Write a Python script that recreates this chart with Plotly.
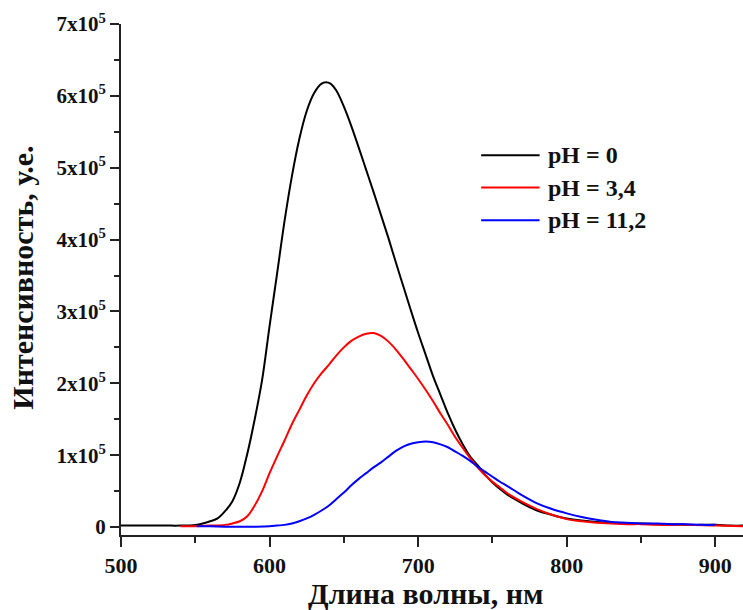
import plotly.graph_objects as go

# Emission spectra at three pH values (intensity in arbitrary units)
wl_ph0 = [500, 510, 520, 530, 540, 550, 555, 560, 565, 570, 575, 580, 585, 590, 595,
          600, 605, 610, 615, 620, 625, 630, 635, 638, 641, 645, 650, 655, 660, 665,
          670, 675, 680, 685, 690, 695, 700, 705, 710, 715, 720, 725, 730, 735, 740,
          745, 750, 755, 760, 770, 780, 790, 800, 810, 820, 830, 840, 850, 860, 870,
          880, 890, 900, 910, 920]
int_ph0 = [2000, 2000, 2000, 2000, 2000, 3000, 5000, 8000, 12000, 22000, 36000, 62000,
           102000, 150000, 205000, 280000, 352000, 425000, 488000, 540000, 579000,
           604000, 617000, 619000, 617000, 607000, 585000, 558000, 528000, 497000,
           466000, 434000, 402000, 368000, 335000, 302000, 270000, 240000, 210000,
           184000, 158000, 135000, 115000, 98000, 86000, 73000, 62000, 53000, 45000,
           33000, 23000, 17000, 12000, 9000, 7000, 6000, 5000, 5000, 4000, 4000,
           3000, 3000, 3000, 2000, 2000]

wl_ph34 = [540, 550, 560, 570, 575, 580, 585, 590, 595, 600, 605, 610, 615, 620, 625,
           630, 635, 640, 645, 650, 655, 660, 665, 670, 675, 680, 685, 690, 695, 700,
           705, 710, 715, 720, 725, 730, 735, 740, 745, 750, 755, 760, 770, 780, 790,
           800, 810, 820, 830, 840, 850, 860, 880, 900, 920]
int_ph34 = [1000, 1000, 2000, 3000, 5000, 8000, 15000, 30000, 50000, 75000, 98000,
            120000, 143000, 163000, 183000, 200000, 214000, 226000, 239000, 250000,
            259000, 265000, 269000, 270000, 266000, 258000, 247000, 234000, 220000,
            206000, 191000, 175000, 158000, 142000, 125000, 110000, 96000, 83000,
            72000, 63000, 55000, 47000, 35000, 25000, 17000, 11000, 8000, 6000, 5000,
            4000, 4000, 3000, 3000, 2000, 1000]

wl_ph112 = [551, 560, 570, 580, 590, 600, 605, 610, 615, 620, 625, 630, 635, 640, 645,
            650, 655, 660, 665, 670, 675, 680, 685, 690, 695, 700, 705, 710, 715, 720,
            725, 730, 735, 740, 745, 750, 755, 760, 770, 780, 790, 800, 810, 820, 830,
            840, 850, 860, 870, 880, 890, 900]
int_ph112 = [1000, 1000, 500, 500, 500, 1000, 2000, 3000, 5000, 8000, 12000, 17000,
             23000, 30000, 39000, 48000, 58000, 67000, 75000, 83000, 90000, 98000,
             106000, 112000, 116000, 118000, 119000, 118000, 115000, 111000, 105000,
             99000, 92000, 84000, 77000, 70000, 63000, 57000, 44000, 33000, 25000,
             19000, 14000, 10000, 7000, 6000, 5000, 5000, 4000, 4000, 3000, 3000]

series_names = ["pH = 0", "pH = 3,4", "pH = 11,2"]
series_colors = ["#000000", "#ff0000", "#0000ff"]
series_x = [wl_ph0, wl_ph34, wl_ph112]
series_y = [int_ph0, int_ph34, int_ph112]

y_tickvals = [0, 100000, 200000, 300000, 400000, 500000, 600000, 700000]
y_ticktext = ["0", "1x10<sup>5</sup>", "2x10<sup>5</sup>", "3x10<sup>5</sup>",
              "4x10<sup>5</sup>", "5x10<sup>5</sup>", "6x10<sup>5</sup>",
              "7x10<sup>5</sup>"]

x_title = "Длина волны, нм"
y_title = "Интенсивность, у.е."

FONT = "Liberation Serif"
AXIS_COLOR = "#222222"
TEXT_COLOR = "#111111"

fig = go.Figure()
for name, color, xs, ys in zip(series_names, series_colors, series_x, series_y):
    fig.add_trace(go.Scatter(
        x=xs, y=ys, name=name, mode="lines",
        line=dict(color=color, width=2, shape="spline", smoothing=1.0),
        showlegend=False,
    ))

# Legend drawn as short line segments with bold labels
leg_x0, leg_x1, leg_text_x = 0.579, 0.673, 0.684
leg_rows = [0.743, 0.680, 0.616]
for name, color, ry in zip(series_names, series_colors, leg_rows):
    fig.add_shape(type="line", xref="paper", yref="paper",
                  x0=leg_x0, x1=leg_x1, y0=ry, y1=ry,
                  line=dict(color=color, width=2))
    fig.add_annotation(xref="paper", yref="paper", x=leg_text_x, y=ry,
                       text=name, showarrow=False, xanchor="left", yanchor="middle",
                       font=dict(family=FONT, size=24, color=TEXT_COLOR, weight="bold"))

# Axis titles
fig.add_annotation(xref="paper", yref="paper", x=0.49, y=-0.114,
                   text=x_title, showarrow=False, xanchor="center", yanchor="middle",
                   font=dict(family=FONT, size=30, color=TEXT_COLOR, weight="bold"))
fig.add_annotation(xref="paper", yref="paper", x=-0.158, y=0.503,
                   text=y_title, showarrow=False, textangle=-90,
                   xanchor="center", yanchor="middle",
                   font=dict(family=FONT, size=30, color=TEXT_COLOR, weight="bold"))

fig.update_layout(
    width=743, height=610,
    margin=dict(l=121, r=0, t=24, b=75),
    paper_bgcolor="white", plot_bgcolor="white",
    font=dict(family=FONT, color=TEXT_COLOR),
)

fig.update_xaxes(
    range=[500, 918.6], tickmode="linear", tick0=500, dtick=100,
    showgrid=False, zeroline=False,
    showline=True, linecolor=AXIS_COLOR, linewidth=2,
    ticks="outside", ticklen=10, tickwidth=2, tickcolor=AXIS_COLOR,
    minor=dict(ticks="outside", ticklen=6, tickwidth=2, tickcolor=AXIS_COLOR,
               tickmode="linear", tick0=500, dtick=50),
    tickfont=dict(family=FONT, size=22, color=TEXT_COLOR, weight="bold"),
)

fig.update_yaxes(
    range=[-11100, 700000], tickmode="array",
    tickvals=y_tickvals, ticktext=y_ticktext,
    showgrid=False, zeroline=False,
    showline=True, linecolor=AXIS_COLOR, linewidth=2,
    ticks="outside", ticklen=9, tickwidth=2, tickcolor=AXIS_COLOR,
    minor=dict(ticks="outside", ticklen=5, tickwidth=2, tickcolor=AXIS_COLOR,
               tickmode="linear", tick0=0, dtick=50000),
    tickfont=dict(family=FONT, size=21, color=TEXT_COLOR, weight="bold"),
)

fig.write_html("out.html")
